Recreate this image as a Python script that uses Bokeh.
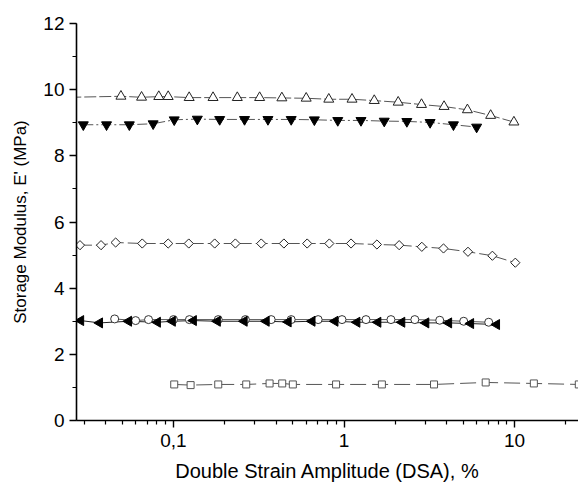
import math
from bokeh.plotting import figure
from bokeh.models import FixedTicker, Range1d, SingleIntervalTicker, CustomJSTickFormatter
from bokeh.embed import file_html
from bokeh.resources import INLINE

# ---- data ----
tri_up_x = [0.02, 0.0492, 0.0650, 0.0820, 0.0931, 0.1236, 0.1706, 0.2367, 0.320, 0.432,
            0.600, 0.814, 1.114, 1.504, 2.077, 2.846, 3.86, 5.29, 7.24, 9.91]
tri_up_y = [9.76, 9.80, 9.77, 9.79, 9.79, 9.76, 9.76, 9.76, 9.76, 9.75,
            9.74, 9.71, 9.71, 9.67, 9.62, 9.55, 9.49, 9.39, 9.22, 9.02]

tri_down_x = [0.0296, 0.0405, 0.0551, 0.0760, 0.101, 0.138, 0.1866, 0.261, 0.358, 0.490,
              0.670, 0.919, 1.257, 1.721, 2.335, 3.196, 4.38, 5.99]
tri_down_y = [8.94, 8.94, 8.94, 8.97, 9.09, 9.11, 9.10, 9.10, 9.10, 9.10,
              9.09, 9.07, 9.07, 9.05, 9.04, 9.01, 8.94, 8.87]

diam_x = [0.0283, 0.0376, 0.0458, 0.0656, 0.0931, 0.1229, 0.1744, 0.2306, 0.327, 0.444,
          0.608, 0.820, 1.099, 1.559, 2.105, 2.858, 3.83, 5.33, 7.41, 10.1]
diam_y = [5.30, 5.30, 5.38, 5.35, 5.35, 5.35, 5.35, 5.35, 5.35, 5.35,
          5.35, 5.35, 5.35, 5.32, 5.30, 5.25, 5.20, 5.10, 4.98, 4.77]

circ_x = [0.0452, 0.060, 0.0714, 0.100, 0.124, 0.183, 0.264, 0.374, 0.490, 0.705,
          0.973, 1.345, 1.884, 2.60, 3.64, 5.03, 7.05]
circ_y = [3.07, 3.02, 3.05, 3.05, 3.05, 3.05, 3.05, 3.05, 3.05, 3.05,
          3.05, 3.05, 3.05, 3.05, 3.03, 3.00, 2.97]

tri_left_x = [0.0286, 0.0369, 0.0546, 0.0806, 0.0986, 0.131, 0.181, 0.260, 0.350, 0.471,
              0.650, 0.886, 1.191, 1.581, 2.184, 3.02, 4.11, 5.53, 7.85]
tri_left_y = [3.02, 2.95, 3.00, 2.97, 3.00, 3.02, 3.00, 3.00, 3.00, 2.98,
              3.00, 3.00, 2.97, 2.97, 2.97, 2.95, 2.95, 2.93, 2.90]

sq_x = [0.101, 0.126, 0.183, 0.267, 0.366, 0.434, 0.501, 0.898, 1.667, 3.37, 6.77, 12.97, 23.8]
sq_y = [1.09, 1.07, 1.09, 1.09, 1.12, 1.12, 1.09, 1.09, 1.09, 1.09, 1.15, 1.12, 1.09]

x_major = [0.1, 1, 10]
x_minor = [0.03, 0.04, 0.05, 0.06, 0.07, 0.08, 0.09,
           0.2, 0.3, 0.4, 0.5, 0.6, 0.7, 0.8, 0.9,
           2, 3, 4, 5, 6, 7, 8, 9, 20]

FONT = "Liberation Sans"

p = figure(width=578, height=485, x_axis_type="log",
           x_range=Range1d(0.027, 23.7), y_range=Range1d(0, 12),
           output_backend="svg", toolbar_location=None,
           min_border_left=76, min_border_right=0, min_border_top=23, min_border_bottom=65)
p.outline_line_color = None
p.grid.visible = False
p.background_fill_color = "white"
p.border_fill_color = "white"

# axes
p.xaxis.ticker = FixedTicker(ticks=x_major, minor_ticks=x_minor)
p.xaxis.formatter = CustomJSTickFormatter(code="return tick.toString().replace('.', ',');")
p.yaxis.ticker = SingleIntervalTicker(interval=2, num_minor_ticks=2)
for ax in (p.xaxis[0], p.yaxis[0]):
    ax.axis_line_width = 1.6
    ax.axis_line_color = "black"
    ax.major_tick_line_width = 1.4
    ax.minor_tick_line_width = 1.2
    ax.major_tick_line_color = "black"
    ax.minor_tick_line_color = "black"
    ax.major_tick_out = 7
    ax.major_tick_in = 0
    ax.minor_tick_out = 4
    ax.minor_tick_in = 0
    ax.major_label_text_font = FONT
    ax.major_label_text_font_size = "19px"
    ax.major_label_text_color = "black"
    ax.axis_label_text_font = FONT
    ax.axis_label_text_font_style = "normal"
    ax.axis_label_text_color = "black"
    ax.major_label_standoff = 5
p.xaxis.axis_label = "Double Strain Amplitude (DSA), %"
p.yaxis.axis_label = "Storage Modulus, E' (MPa)"
p.xaxis.axis_label_text_font_size = "20px"
p.yaxis.axis_label_text_font_size = "17px"
p.xaxis.major_label_standoff = 6
p.xaxis.axis_label_standoff = 10
p.yaxis.axis_label_standoff = 10

LC = "#555555"
# connecting lines
p.line(tri_up_x, tri_up_y, line_color=LC, line_width=1, line_dash="12 3")
p.line(tri_down_x, tri_down_y, line_color=LC, line_width=1, line_dash="10 3 2 3")
p.line(diam_x, diam_y, line_color=LC, line_width=1, line_dash="12 4")
p.line(circ_x, circ_y, line_color=LC, line_width=1)
p.line(tri_left_x, tri_left_y, line_color="#222222", line_width=1)
p.line(sq_x, sq_y, line_color=LC, line_width=1, line_dash="16 6")

# markers
p.scatter(tri_up_x, tri_up_y, marker="triangle", size=10, fill_color="white",
          line_color="#222222", line_width=1)
p.scatter(tri_down_x, tri_down_y, marker="inverted_triangle", size=10, fill_color="black",
          line_color="black", line_width=1)
p.scatter(diam_x, diam_y, marker="square", angle=math.pi / 4, size=6.5, fill_color="white",
          line_color="#222222", line_width=1)
p.scatter(circ_x, circ_y, marker="circle", size=8, fill_color="white",
          line_color="#333333", line_width=1)
p.scatter(tri_left_x, tri_left_y, marker="triangle", angle=math.pi / 2, size=10,
          fill_color="black", line_color="black", line_width=1)
p.scatter(sq_x, sq_y, marker="square", size=7, fill_color="white",
          line_color="#555555", line_width=1)

open("out.html", "w").write(file_html(p, INLINE))
